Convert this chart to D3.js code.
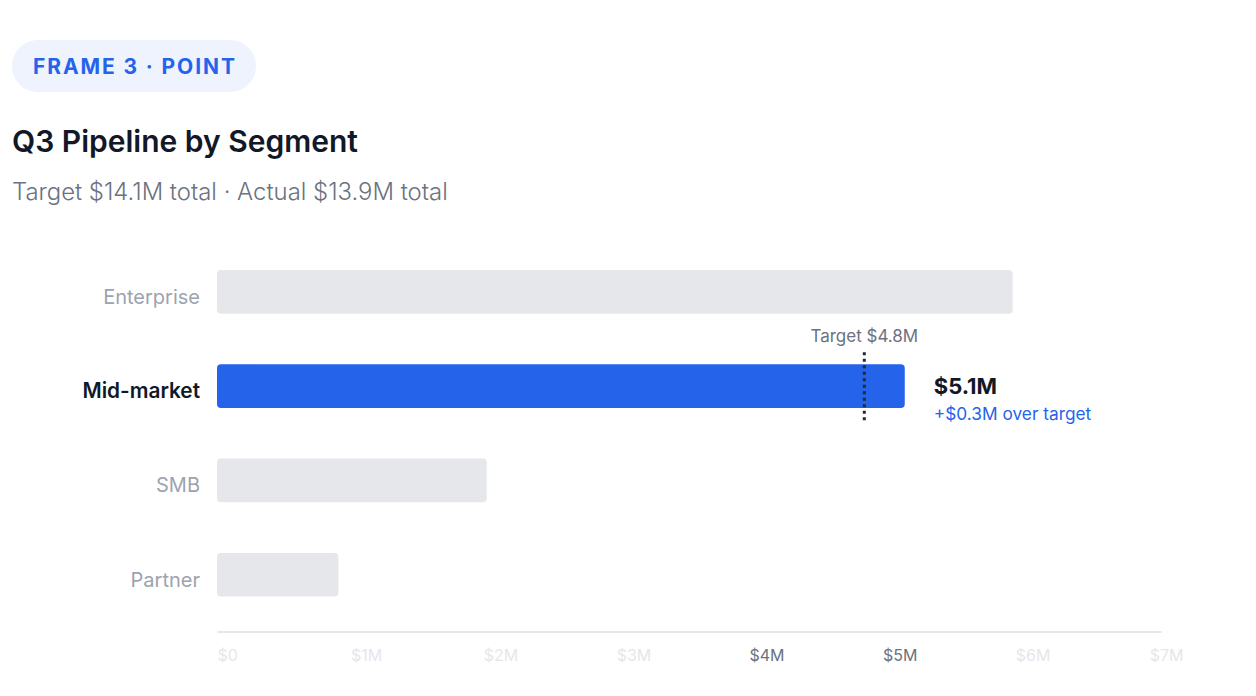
<!DOCTYPE html>
<html>
<head>
<meta charset="utf-8">
<script src="https://cdn.jsdelivr.net/npm/d3@7"></script>
<style>
  html, body { margin: 0; padding: 0; background: #ffffff; }
  svg { display: block; font-family: Inter, "Noto Sans", sans-serif; }
</style>
</head>
<body>
<svg id="chart"></svg>
<script>
// data
const segments = ['Enterprise', 'Mid-market', 'SMB', 'Partner'];
const actuals = [5.9, 5.1, 2.0, 0.9];          // $M
const highlight = 'Mid-market';
const target = 4.8;                            // $M, target of highlighted segment
const tickValues = [0, 1, 2, 3, 4, 5, 6, 7];   // $M
const strongTicks = [4, 5];

const badgeText = 'FRAME 3 · POINT';
const title = 'Q3 Pipeline by Segment';
const subtitle = 'Target $14.1M total · Actual $13.9M total';

const width = 1256, height = 696;
const margin = { top: 270, right: 95, bottom: 99, left: 217 };

const svg = d3.select('#chart')
    .attr('width', width)
    .attr('height', height);

// header
const badge = svg.append('g');
badge.append('rect')
    .attr('x', 12).attr('y', 40)
    .attr('width', 244).attr('height', 52)
    .attr('rx', 26)
    .attr('fill', '#eef3fd');
badge.append('text')
    .attr('x', 33).attr('y', 74)
    .attr('font-size', 21)
    .attr('font-weight', 700)
    .attr('letter-spacing', 1.9)
    .attr('fill', '#2563eb')
    .text(badgeText);

svg.append('text')
    .attr('x', 12).attr('y', 152)
    .attr('font-size', 30)
    .attr('font-weight', 600)
    .attr('fill', '#111827')
    .text(title);

svg.append('text')
    .attr('x', 12).attr('y', 200)
    .attr('font-size', 23.9)
    .attr('font-weight', 300)
    .attr('fill', '#6b7280')
    .text(subtitle);

// scales
const x = d3.scaleLinear()
    .domain([0, 7])
    .range([margin.left, 1161]);

const y = d3.scaleBand()
    .domain(segments)
    .range([margin.top, 596.6])
    .paddingInner(0.537)
    .paddingOuter(0);

const chart = svg.append('g');

// bars
chart.selectAll('rect.bar')
    .data(segments)
    .enter()
    .append('rect')
    .attr('class', 'bar')
    .attr('x', x(0))
    .attr('y', d => y(d))
    .attr('width', (d, i) => x(actuals[i]) - x(0))
    .attr('height', y.bandwidth())
    .attr('rx', 4)
    .attr('fill', d => d === highlight ? '#2563eb' : '#e5e7eb');

// category labels
chart.selectAll('text.cat')
    .data(segments)
    .enter()
    .append('text')
    .attr('class', 'cat')
    .attr('x', 200)
    .attr('y', d => y(d) + y.bandwidth() / 2 + 12)
    .attr('text-anchor', 'end')
    .attr('font-size', d => d === highlight ? 20.8 : 20)
    .attr('font-weight', d => d === highlight ? 600 : 400)
    .attr('fill', d => d === highlight ? '#111827' : '#9ca3af')
    .text(d => d);

// target marker
const hy = y(highlight);
const hi = segments.indexOf(highlight);
chart.append('line')
    .attr('x1', x(target)).attr('x2', x(target))
    .attr('y1', hy - 12).attr('y2', hy + y.bandwidth() + 13)
    .attr('stroke', '#1f2937')
    .attr('stroke-width', 3)
    .attr('stroke-dasharray', '3,3.5');

chart.append('text')
    .attr('x', x(target))
    .attr('y', hy - 22)
    .attr('text-anchor', 'middle')
    .attr('font-size', 17)
    .attr('fill', '#6b7280')
    .text(`Target $${target.toFixed(1)}M`);

// value annotation
const diff = actuals[hi] - target;
chart.append('text')
    .attr('x', x(actuals[hi]) + 29)
    .attr('y', hy + 30)
    .attr('font-size', 22)
    .attr('font-weight', 700)
    .attr('fill', '#111827')
    .text(`$${actuals[hi].toFixed(1)}M`);

chart.append('text')
    .attr('x', x(actuals[hi]) + 29)
    .attr('y', hy + 56)
    .attr('font-size', 17.3)
    .attr('fill', '#2563eb')
    .text(`+$${diff.toFixed(1)}M over target`);

// axis
const axisY = 631.5;
const axis = d3.axisBottom(x)
    .tickValues(tickValues)
    .tickSize(0)
    .tickFormat(d => d === 0 ? '$0' : `$${d}M`);

const axisG = svg.append('g')
    .attr('transform', `translate(0, ${axisY})`)
    .call(axis);

axisG.select('.domain')
    .attr('stroke', '#e5e7eb')
    .attr('stroke-width', 2);

// labels spread edge to edge like a justified row
const labelSpan = d3.scaleLinear().domain([0, 7]).range([margin.left, 1183]);
axisG.selectAll('.tick text')
    .attr('font-family', 'Inter, "Noto Sans", sans-serif')
    .attr('font-size', 16)
    .attr('fill', d => strongTicks.includes(d) ? '#6b7280' : '#e5e7eb')
    .attr('text-anchor', 'start')
    .attr('y', 18)
    .attr('dy', '0.71em')
    .each(function (d) {
        const w = this.getComputedTextLength();
        const t = d / 7;
        const px = labelSpan(d) - t * w;
        d3.select(this).attr('x', px - x(d));
    });
</script>
</body>
</html>
